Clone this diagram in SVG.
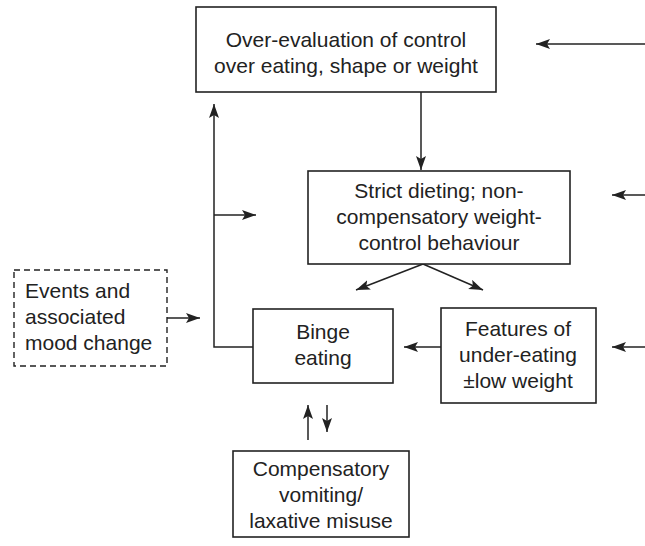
<svg xmlns="http://www.w3.org/2000/svg" width="645" height="546" viewBox="0 0 645 546">
<style>
.box{fill:#fff;stroke:#222;stroke-width:1.6}
.dash{fill:#fff;stroke:#222;stroke-width:1.4;stroke-dasharray:6,4}
.t{font-family:"Liberation Sans",Arial,sans-serif;font-size:21px;fill:#222;text-anchor:middle}
.tl{text-anchor:start}
.c{fill:none;stroke:#222;stroke-width:1.5}
</style>
<defs>
<marker id="ah" markerUnits="userSpaceOnUse" markerWidth="16" markerHeight="12" refX="14" refY="5" orient="auto">
<path d="M0,0 L14,5 L0,10 L3,5 z" fill="#222"/>
</marker>
</defs>
<g id="connectors">
<line class="c" x1="645" y1="44" x2="536" y2="44" marker-end="url(#ah)"/>
<line class="c" x1="645" y1="195" x2="612" y2="195" marker-end="url(#ah)"/>
<line class="c" x1="645" y1="347" x2="612" y2="347" marker-end="url(#ah)"/>
<line class="c" x1="421" y1="92" x2="421" y2="170" marker-end="url(#ah)"/>
<polyline class="c" points="253,347 214,347 214,104" marker-end="url(#ah)"/>
<line class="c" x1="214" y1="215" x2="256" y2="215" marker-end="url(#ah)"/>
<line class="c" x1="423" y1="264" x2="356" y2="290" marker-end="url(#ah)"/>
<line class="c" x1="423" y1="264" x2="483" y2="290" marker-end="url(#ah)"/>
<line class="c" x1="441" y1="347" x2="404" y2="347" marker-end="url(#ah)"/>
<line class="c" x1="167" y1="318" x2="200" y2="318" marker-end="url(#ah)"/>
<line class="c" x1="308" y1="440" x2="308" y2="405" marker-end="url(#ah)"/>
<line class="c" x1="327" y1="405" x2="327" y2="432" marker-end="url(#ah)"/>
</g>
<g id="overevaluation">
<rect class="box" x="196" y="7" width="300" height="85"/>
<text class="t" x="346" y="47">Over-evaluation of control</text>
<text class="t" x="346" y="73">over eating, shape or weight</text>
</g>
<g id="strict-dieting">
<rect class="box" x="308" y="171" width="262" height="93"/>
<text class="t" x="439" y="198">Strict dieting; non-</text>
<text class="t" x="439" y="224">compensatory weight-</text>
<text class="t" x="439" y="250">control behaviour</text>
</g>
<g id="events">
<rect class="dash" x="14" y="270" width="153" height="96"/>
<text class="t tl" x="25" y="298">Events and</text>
<text class="t tl" x="25" y="324">associated</text>
<text class="t tl" x="25" y="350">mood change</text>
</g>
<g id="binge">
<rect class="box" x="253" y="309" width="140" height="74"/>
<text class="t" x="323" y="339">Binge</text>
<text class="t" x="323" y="365">eating</text>
</g>
<g id="features">
<rect class="box" x="441" y="308" width="155" height="95"/>
<text class="t" x="518" y="336">Features of</text>
<text class="t" x="518" y="362">under-eating</text>
<text class="t" x="518" y="388">±low weight</text>
</g>
<g id="compensatory">
<rect class="box" x="233" y="451" width="176" height="86"/>
<text class="t" x="321" y="476">Compensatory</text>
<text class="t" x="321" y="502">vomiting/</text>
<text class="t" x="321" y="528">laxative misuse</text>
</g>
</svg>
